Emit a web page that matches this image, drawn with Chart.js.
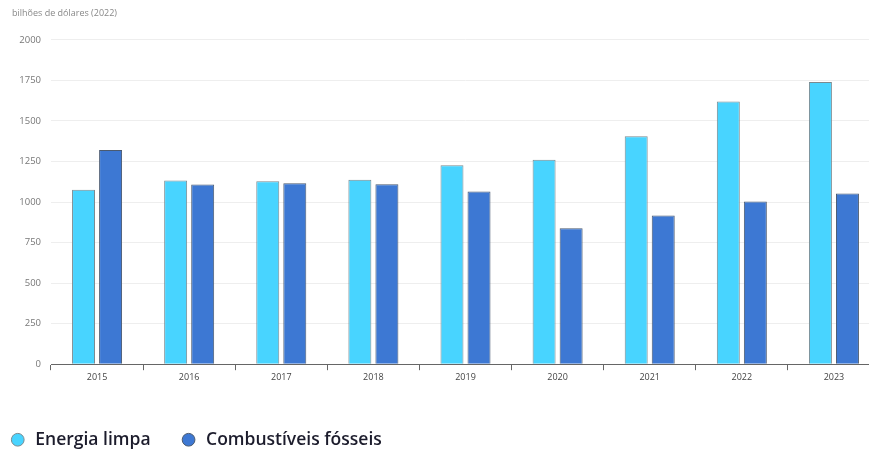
<!DOCTYPE html>
<html>
<head>
<meta charset="utf-8">
<script src="https://cdn.jsdelivr.net/npm/chart.js@4.4.1/dist/chart.umd.min.js"></script>
<style>
  html, body { margin: 0; padding: 0; background: #fff; overflow: hidden; }
  #wrap { width: 880px; height: 450px; }
</style>
</head>
<body>
<div id="wrap"><canvas id="chart" width="880" height="450"></canvas></div>
<script>
const years = ['2015', '2016', '2017', '2018', '2019', '2020', '2021', '2022', '2023'];
const cleanEnergy = [1075, 1133, 1128, 1137, 1226, 1261, 1405, 1620, 1740];
const fossilFuels = [1320, 1108, 1115, 1110, 1065, 838, 916, 1003, 1053];
const yTicks = [0, 250, 500, 750, 1000, 1250, 1500, 1750, 2000];

// fixed legend box so the plot and the legend sit where they should
const legendBox = {
    id: 'legendBox',
    beforeInit(chart) {
        const fit = chart.legend.fit;
        chart.legend.fit = function () {
            fit.call(this);
            this.height = 65;
        };
    },
    afterLayout(chart) {
        chart.legend.left = 7;
    }
};

document.addEventListener('DOMContentLoaded', () => {
    const ctx = document.getElementById('chart').getContext('2d');
    new Chart(ctx, {
        type: 'bar',
        data: {
            labels: years,
            datasets: [{
                label: 'Energia limpa      ',
                data: cleanEnergy,
                backgroundColor: '#48d4ff',
                borderColor: '#7a8a90',
                borderWidth: 1
            }, {
                label: 'Combustíveis fósseis',
                data: fossilFuels,
                backgroundColor: '#3d78d3',
                borderColor: '#4a5a70',
                borderWidth: 1
            }]
        },
        options: {
            responsive: false,
            animation: false,
            categoryPercentage: 0.587,
            barPercentage: 0.85,
            layout: { padding: { top: 0, left: 12, right: 0, bottom: 0 } },
            plugins: {
                title: {
                    display: true,
                    text: 'bilhões de dólares (2022)',
                    align: 'start',
                    color: '#888',
                    font: { family: 'Open Sans', size: 9, weight: 'normal' },
                    padding: { top: 8, bottom: 21 }
                },
                legend: {
                    position: 'bottom',
                    align: 'start',
                    title: {
                        display: true,
                        text: '',
                        font: { size: 10 },
                        padding: { top: 15, bottom: 17 }
                    },
                    labels: {
                        usePointStyle: true,
                        pointStyle: 'circle',
                        boxHeight: 9,
                        padding: 2,
                        color: '#1c1c2c',
                        font: { family: 'Open Sans', size: 17.5, weight: '600' }
                    }
                },
                tooltip: { enabled: false }
            },
            scales: {
                x: {
                    grid: {
                        display: true,
                        drawOnChartArea: false,
                        drawTicks: true,
                        tickLength: 6,
                        offset: true,
                        color: '#666'
                    },
                    border: { display: true, color: '#666', width: 1 },
                    ticks: {
                        color: '#444',
                        font: { family: 'Open Sans', size: 9 },
                        padding: 2
                    }
                },
                y: {
                    min: 0,
                    max: 2000,
                    afterBuildTicks: axis => {
                        axis.ticks = yTicks.map(v => ({ value: v }));
                    },
                    afterFit: axis => {
                        axis.width = 39;
                    },
                    grid: {
                        color: '#eeeeee',
                        drawTicks: false
                    },
                    border: { display: false },
                    ticks: {
                        color: '#777',
                        font: { family: 'Open Sans', size: 9.5 },
                        padding: 10,
                        callback: v => String(v)
                    }
                }
            }
        },
        plugins: [legendBox]
    });
});
</script>
</body>
</html>
